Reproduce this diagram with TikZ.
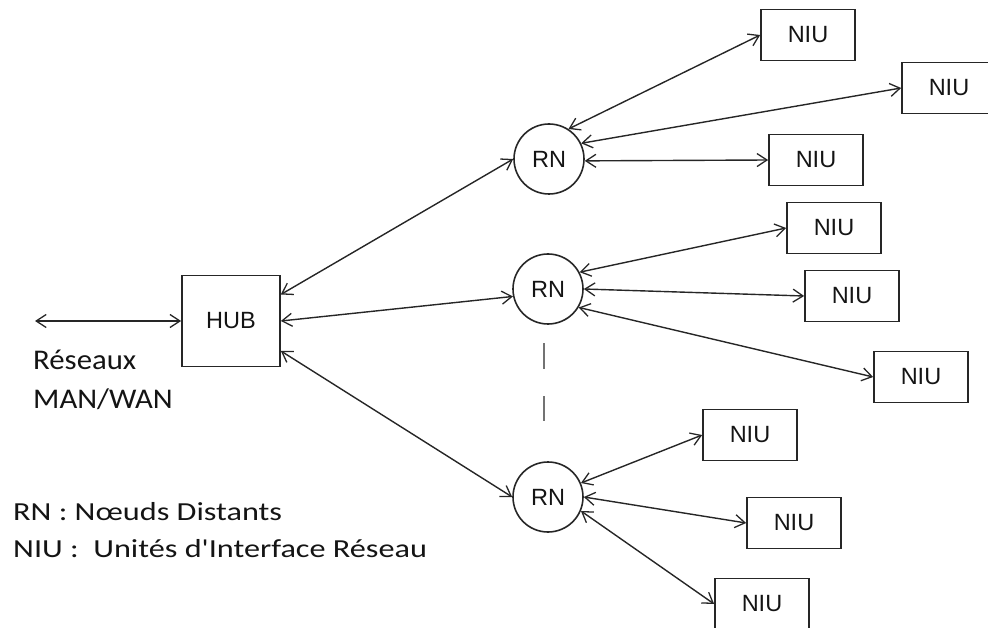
\documentclass[tikz,border=0pt]{standalone}
\usepackage{fontspec}
\setmainfont{Liberation Sans}
\newfontfamily\notefont[FakeStretch=1.08,Ligatures=TeXOff]{Carlito}
\newfontfamily\legendfont[FakeStretch=1.24,Ligatures=TeXOff]{Carlito}
\usetikzlibrary{arrows.meta}

\definecolor{ink}{HTML}{262626}
\definecolor{textink}{HTML}{141414}

\begin{document}
\begin{tikzpicture}[x=1pt,y=-1pt,
  barb/.tip={Straight Barb[length=10pt,width=13pt,line width=1.3pt]},
  link/.style={draw=ink, line width=1.4pt, barb-barb},
  unit/.style={draw=ink, line width=1.7pt, rectangle, inner sep=0pt,
    minimum width=94pt, minimum height=51pt, text=textink,
    font=\fontsize{23.5}{27}\selectfont},
  hubbox/.style={unit, minimum width=98pt, minimum height=91pt},
  relay/.style={draw=ink, line width=1.6pt, circle, inner sep=0pt,
    minimum size=70pt, text=textink, font=\fontsize{23.5}{27}\selectfont},
  note/.style={anchor=base west, inner sep=0pt, text=textink},
  gapmark/.style={draw=black!55, line width=2pt}
]
\useasboundingbox (0,0) rectangle (988,628);

% central hub and remote nodes
\node[hubbox] (hub) at (231,321) {HUB};
\node[relay] (rn1) at (549,159) {RN};
\node[relay] (rn2) at (548,289) {RN};
\node[relay] (rn3) at (548,497) {RN};

% network interface units
\node[unit] (niu1) at (808,35)  {NIU};
\node[unit] (niu2) at (949,88)  {NIU};
\node[unit] (niu3) at (816,160) {NIU};
\node[unit] (niu4) at (834,228) {NIU};
\node[unit] (niu5) at (852,296) {NIU};
\node[unit] (niu6) at (921,377) {NIU};
\node[unit] (niu7) at (750,435) {NIU};
\node[unit] (niu8) at (794,523) {NIU};
\node[unit] (niu9) at (762,604) {NIU};

% external network link
\coordinate (wan) at (35,321);
\draw[link] (wan) -- (hub.west);

% hub to remote nodes
\draw[link] (hub.28)  -- (rn1.west);
\draw[link] (hub.east) -- (rn2.192);
\draw[link] (hub.-31) -- (rn3.west);

% remote nodes to interface units
\draw[link] (rn1.57)  -- (niu1.west);
\draw[link] (rn1.26)  -- (niu2.west);
\draw[link] (rn1.-3)  -- (niu3.west);
\draw[link] (rn2.28)  -- (niu4.west);
\draw[link] (rn2.east) -- (niu5.west);
\draw[link] (rn2.-31) -- (niu6.west);
\draw[link] (rn3.23)  -- (niu7.west);
\draw[link] (rn3.east) -- (niu8.west);
\draw[link] (rn3.-23) -- (niu9.west);

% vertical ellipsis between the remote nodes
\draw[gapmark] (544,343) -- (544,369);
\draw[gapmark] (544,396) -- (544,421);

% labels
\node[note, font=\notefont\fontsize{28.5}{34}\selectfont] (wanA) at (33,370) {Réseaux};
\node[note, font=\notefont\fontsize{28.5}{34}\selectfont] (wanB) at (33,408) {MAN/WAN};
\node[note, font=\legendfont\fontsize{26}{31}\selectfont] (legA) at (13,520) {RN : Nœuds Distants};
\node[note, font=\legendfont\fontsize{26}{31}\selectfont] (legB) at (13,557) {NIU :\ \ Unités d'Interface Réseau};
\end{tikzpicture}
\end{document}
